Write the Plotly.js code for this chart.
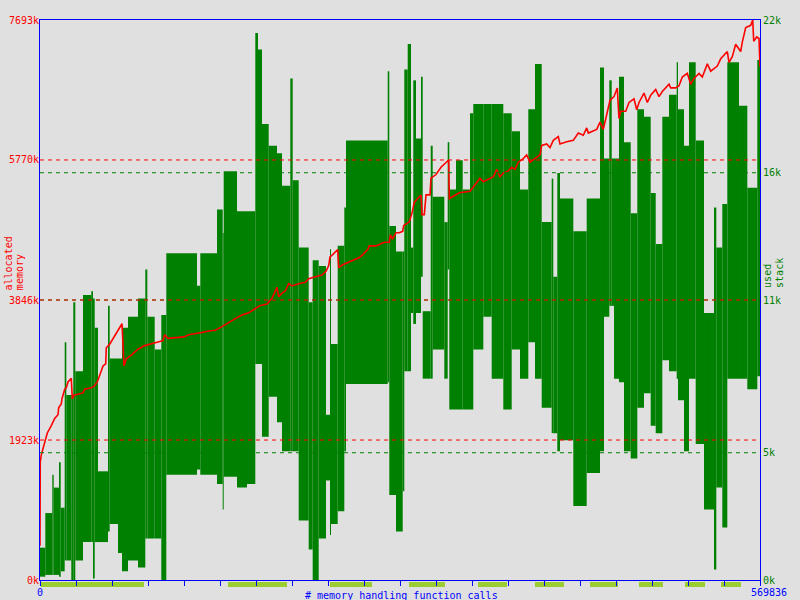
<!DOCTYPE html>
<html>
<head>
<meta charset="utf-8">
<script src="https://cdn.plot.ly/plotly-3.0.1.min.js"></script>
<style>
  html, body { margin: 0; padding: 0; background: #e0e0e0; }
  #chart { width: 800px; height: 600px; }
</style>
</head>
<body>
<div id="chart"></div>
<script>
// ---- data ----
const totalCalls = 569836;

// used stack (bytes): each block starts at a call number and covers the range low..high
const stackStart = [0, 4200, 9730, 10840, 15040, 16380, 19550, 20820, 24770, 26350,
  27940, 34030, 40600, 41950, 43290, 45900, 53820, 55160, 61730, 64900,
  69650, 77560, 83340, 84920, 90780, 96000, 99960, 124260, 126870, 140090,
  144600, 145390, 155910, 163830, 170400, 172530, 175700, 181000, 187570, 191530,
  198100, 200000, 204740, 212660, 215820, 220570, 226350, 229520, 230310, 235610,
  240840, 242180, 275180, 276450, 281750, 287060, 288320, 291010, 293620, 295440,
  297580, 301540, 302880, 309220, 310800, 319980, 322670, 323940, 329240, 334540,
  340320, 342930, 350850, 357490, 366670, 373320, 379890, 386460, 391760, 397070,
  404980, 406250, 409410, 411550, 422080, 432680, 443210, 446370, 450570, 452470,
  454290, 458240, 462200, 467500, 472730, 478030, 483330, 487290, 492510, 497820,
  503910, 504940, 509690, 513640, 518950, 525520, 533430, 535250, 540000, 543960,
  553220, 559790, 567700];
const stackHigh = [1270, 2630, 4130, 3630, 4630, 2840, 9340, 7270, 7270, 10910,
  8200, 11200, 11340, 11060, 9910, 4270, 10770, 8700, 8700, 9910,
  10340, 11060, 12200, 10340, 9060, 10410, 12840, 11560, 12840, 14560,
  13630, 16060, 14490, 14490, 21490, 20840, 17910, 17060, 16770, 15490,
  19700, 15700, 13060, 10910, 12560, 12340, 6490, 12990, 9270, 13130,
  14630, 17270, 19990, 13910, 12910, 12910, 20060, 21060, 13060, 19630,
  17340, 19770, 10560, 17060, 15060, 14060, 17200, 15340, 16490, 15340,
  18340, 18700, 18700, 18700, 18340, 17630, 15340, 18490, 20270, 14060,
  15770, 11910, 15990, 14990, 13700, 14990, 20130, 16560, 19630, 16560,
  16560, 19770, 17200, 14410, 18490, 18200, 15200, 13200, 18200, 19060,
  20340, 18490, 17060, 20340, 17270, 10490, 14630, 13060, 14770, 20340,
  18630, 15410, 20430];
const stackLow = [130, 200, 200, 200, 130, 340, 770, 770, 0, 0,
  770, 1490, 1490, 60, 1490, 1490, 1910, 2200, 1060, 340,
  770, 490, 1630, 1630, 1630, 0, 4130, 4340, 4130, 3770,
  2770, 4060, 3630, 3770, 8490, 8490, 5630, 7200, 6200, 5060,
  5060, 5060, 2340, 1200, 0, 1630, 3910, 1770, 2200, 2700,
  5060, 7700, 7770, 3340, 1910, 3490, 8200, 8200, 10490, 10060,
  10490, 11910, 7910, 7910, 9060, 7910, 12200, 6700, 6700, 6700,
  6700, 9060, 10340, 7910, 6700, 9060, 7910, 9340, 7910, 6770,
  5770, 5770, 5060, 5490, 2910, 4200, 5060, 10340, 10770, 10770,
  7910, 7770, 5060, 4770, 6770, 7340, 6060, 5770, 8630, 8200,
  7910, 7060, 5060, 7910, 5340, 2770, 410, 3630, 2060, 7910,
  7910, 7490, 8000];

// allocated memory (kB) against call number
const memCalls = [0, 200, 1030, 3720, 5780, 8940, 11630, 14250, 14800, 16860,
  17410, 19550, 20810, 22160, 24770, 25560, 26910, 34030, 35380, 40600,
  43290, 45350, 47250, 49860, 52000, 52470, 55160, 57780, 61730, 64900,
  66480, 68300, 72260, 77560, 82860, 88090, 93390, 97350, 98690, 101300,
  113970, 117690, 122910, 128210, 133520, 138740, 144040, 149350, 154570, 159870,
  165170, 170400, 174350, 179660, 183610, 187570, 188920, 191530, 194140, 196830,
  199440, 204750, 209970, 212660, 217880, 223190, 226350, 228490, 229520, 231650,
  235610, 236400, 239570, 243530, 250100, 252710, 255400, 259350, 260620, 265920,
  272490, 276450, 277240, 279140, 281750, 284360, 287060, 287850, 292280, 294420,
  296240, 301540, 302330, 304150, 305500, 308660, 309450, 313410, 317370, 321320,
  323460, 323940, 331850, 340320, 341670, 345620, 348230, 350850, 353540, 358760,
  361450, 364060, 366670, 370630, 373320, 375930, 378550, 382500, 385190, 387810,
  391760, 395720, 397070, 401020, 403630, 406250, 410200, 411550, 416850, 422080,
  426030, 429990, 432680, 433950, 440600, 443210, 445820, 448510, 451120, 454290,
  456900, 458240, 459590, 463550, 466160, 470120, 472250, 474070, 478030, 480640,
  483330, 487290, 489900, 492510, 497810, 499160, 503120, 505730, 508340, 512300,
  514990, 517600, 521560, 524170, 528130, 530820, 536040, 538730, 541350, 543960,
  545300, 547910, 550600, 554560, 555830, 558520, 562480, 564070, 564860, 567220,
  569050, 569836];
const memK = [470, 1620, 1720, 1890, 2020, 2120, 2220, 2270, 2370, 2420,
  2490, 2620, 2640, 2720, 2770, 2490, 2540, 2570, 2620, 2640,
  2670, 2720, 2820, 2940, 2970, 3190, 3240, 3320, 3420, 3520,
  2940, 3040, 3090, 3170, 3220, 3240, 3270, 3290, 3370, 3320,
  3340, 3370, 3380, 3400, 3420, 3430, 3480, 3540, 3590, 3640,
  3670, 3730, 3770, 3790, 3870, 4020, 3890, 3940, 3970, 4070,
  4040, 4070, 4090, 4140, 4170, 4190, 4240, 4320, 4440, 4470,
  4540, 4290, 4330, 4360, 4410, 4430, 4470, 4540, 4590, 4590,
  4640, 4640, 4740, 4690, 4770, 4770, 4790, 4870, 4920, 5040,
  5190, 5290, 5020, 5020, 5290, 5290, 5520, 5570, 5670, 5740,
  5770, 5240, 5320, 5340, 5370, 5470, 5520, 5470, 5490, 5540,
  5640, 5540, 5590, 5620, 5670, 5640, 5740, 5790, 5840, 5740,
  5790, 5840, 5970, 5990, 5940, 6040, 6090, 5990, 6020, 6040,
  6140, 6110, 6210, 6140, 6190, 6290, 6190, 6390, 6590, 6640,
  6760, 6340, 6440, 6440, 6560, 6610, 6460, 6560, 6690, 6560,
  6660, 6740, 6640, 6710, 6810, 6760, 6760, 6790, 6910, 6960,
  6810, 6890, 6960, 6910, 7090, 6990, 7060, 7160, 7210, 7260,
  7110, 7190, 7360, 7260, 7390, 7590, 7620, 7693, 7400, 7460,
  7440, 7050];

// axis ticks / labels
const memMax = 7693;
const memTickVals = [0, 1923, 3846, 5770, 7693];
const memTickText = ['0k', '1923k', '3846k', '5770k', '7693k'];
const stackMax = 22000;
const stackTickVals = [0, 5000, 11000, 16000, 22000];
const stackTickText = ['0k', '5k', '11k', '16k', '22k'];
const memGrid = [1923, 3846, 5770];
const stackGrid = [5000, 11000, 16000];
const xTickCount = 20;

// marked call ranges shown under the x axis
const markStart = [554, 148790, 229520, 292040, 346650, 391760, 435290, 474070, 510480, 538970];
const markEnd   = [82310, 195490, 262760, 320530, 369600, 414710, 457450, 493070, 526310, 554800];

// ---- build ----
const RED = '#ff0000', GREEN = '#008000', BLUE = '#0000ff', LIGHT = '#9acd32';
const FONT = 'DejaVu Sans Mono, monospace';

const bx = [], bw = [], bbase = [], bh = [];
for (let i = 0; i < stackStart.length; i++) {
  const a = stackStart[i];
  const b = i + 1 < stackStart.length ? stackStart[i + 1] : totalCalls;
  bx.push((a + b) / 2);
  bw.push(b - a);
  bbase.push(stackLow[i]);
  bh.push(stackHigh[i] - stackLow[i]);
}

const traces = [
  {
    type: 'bar', x: bx, y: bh, base: bbase, width: bw,
    marker: { color: GREEN, line: { width: 0 } },
    xaxis: 'x', yaxis: 'y', hoverinfo: 'skip', showlegend: false
  },
  {
    type: 'scatter', mode: 'lines', x: memCalls, y: memK,
    line: { color: RED, width: 1.6 },
    xaxis: 'x', yaxis: 'y2', hoverinfo: 'skip', showlegend: false
  }
];

const xTicks = [];
for (let i = 0; i <= xTickCount; i++) xTicks.push(totalCalls * i / xTickCount);

const shapes = [];
stackGrid.forEach(v => shapes.push({
  type: 'line', xref: 'paper', x0: 0, x1: 1, yref: 'y', y0: v, y1: v,
  line: { color: GREEN, width: 1, dash: '4px,4px' }, layer: 'above'
}));
memGrid.forEach(v => shapes.push({
  type: 'line', xref: 'paper', x0: 0, x1: 1, yref: 'y2', y0: v, y1: v,
  line: { color: RED, width: 1, dash: '4px,4px' }, layer: 'above'
}));
for (let i = 0; i < markStart.length; i++) {
  shapes.push({
    type: 'rect', xref: 'x', x0: markStart[i], x1: markEnd[i],
    yref: 'paper', y0: -0.0036, y1: -0.0125,
    fillcolor: LIGHT, line: { width: 0 }, layer: 'below'
  });
}

const annotations = [
  { text: 'allocated', x: -0.044, y: 0.514, xref: 'paper', yref: 'paper', textangle: -90,
    xanchor: 'center', yanchor: 'bottom', showarrow: false, font: { family: FONT, size: 10, color: RED } },
  { text: 'memory', x: -0.0292, y: 0.514, xref: 'paper', yref: 'paper', textangle: -90,
    xanchor: 'center', yanchor: 'bottom', showarrow: false, font: { family: FONT, size: 10, color: RED } },
  { text: 'used', x: 1.0111, y: 0.518, xref: 'paper', yref: 'paper', textangle: -90,
    xanchor: 'center', yanchor: 'bottom', showarrow: false, font: { family: FONT, size: 10, color: GREEN } },
  { text: 'stack', x: 1.0278, y: 0.518, xref: 'paper', yref: 'paper', textangle: -90,
    xanchor: 'center', yanchor: 'bottom', showarrow: false, font: { family: FONT, size: 10, color: GREEN } },
  { text: '# memory handling function calls', x: 0.3653, y: -0.0268, xref: 'paper', yref: 'paper',
    xanchor: 'left', yanchor: 'middle', showarrow: false, font: { family: FONT, size: 10, color: BLUE } },
  { text: '0', x: 0, y: -0.0232, xref: 'paper', yref: 'paper',
    xanchor: 'center', yanchor: 'middle', showarrow: false, font: { family: FONT, size: 10, color: BLUE } },
  { text: String(totalCalls), x: 0.9847, y: -0.0232, xref: 'paper', yref: 'paper',
    xanchor: 'left', yanchor: 'middle', showarrow: false, font: { family: FONT, size: 10, color: BLUE } }
];

const layout = {
  width: 800, height: 600,
  margin: { l: 40, r: 40, t: 20, b: 20, pad: 0 },
  paper_bgcolor: '#e0e0e0', plot_bgcolor: '#e0e0e0',
  font: { family: FONT, size: 10 },
  showlegend: false,
  barmode: 'overlay',
  xaxis: {
    range: [0, totalCalls], showgrid: false, zeroline: false,
    showline: true, linecolor: BLUE, linewidth: 1, mirror: true,
    ticks: 'outside', ticklen: 5, tickcolor: BLUE, tickwidth: 1,
    tickmode: 'array', tickvals: xTicks, ticktext: xTicks.map(() => ''),
    showticklabels: false, fixedrange: true
  },
  yaxis: {
    range: [0, stackMax], side: 'right', showgrid: false, zeroline: false,
    showline: true, linecolor: BLUE, linewidth: 1, mirror: true,
    ticks: '', tickmode: 'array', tickvals: stackTickVals, ticktext: stackTickText,
    tickfont: { family: FONT, size: 10, color: GREEN }, fixedrange: true
  },
  yaxis2: {
    range: [0, memMax], side: 'left', overlaying: 'y', showgrid: false, zeroline: false,
    showline: false, ticks: '', tickmode: 'array', tickvals: memTickVals, ticktext: memTickText,
    tickfont: { family: FONT, size: 10, color: RED }, fixedrange: true
  },
  shapes: shapes,
  annotations: annotations
};

Plotly.newPlot('chart', traces, layout, { displayModeBar: false, staticPlot: true });
</script>
</body>
</html>
